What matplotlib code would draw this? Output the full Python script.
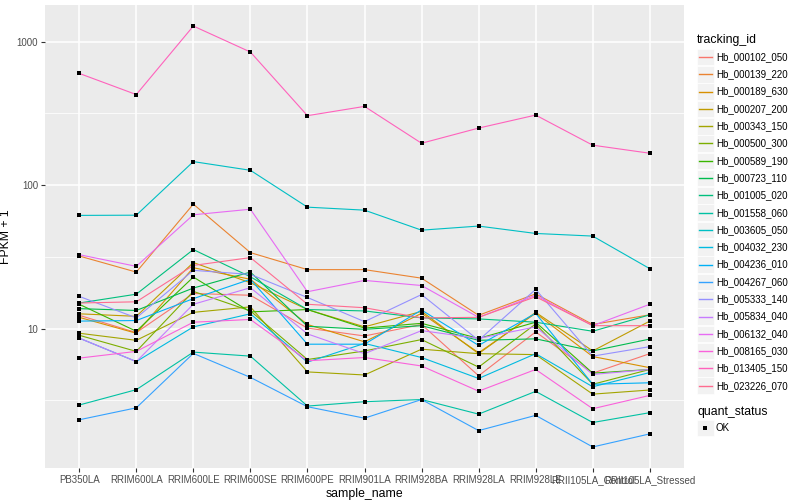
import numpy as np
import matplotlib
matplotlib.use("Agg")
from matplotlib import pyplot as plt
from matplotlib.patches import Rectangle
from matplotlib.lines import Line2D

plt.rcParams['font.family'] = ['Liberation Sans', 'DejaVu Sans']

samples = ["PB350LA", "RRIM600LA", "RRIM600LE", "RRIM600SE", "RRIM600PE", "RRIM901LA",
           "RRIM928BA", "RRIM928LA", "RRIM928LE", "RRII105LA_Control", "RRII105LA_Stressed"]

tracking_ids = ["Hb_000102_050", "Hb_000139_220", "Hb_000189_630", "Hb_000207_200",
                "Hb_000343_150", "Hb_000500_300", "Hb_000589_190", "Hb_000723_110",
                "Hb_001005_020", "Hb_001558_060", "Hb_003605_050", "Hb_004032_230",
                "Hb_004236_010", "Hb_004267_060", "Hb_005333_140", "Hb_005834_040",
                "Hb_006132_040", "Hb_008165_030", "Hb_013405_150", "Hb_023226_070"]

# FPKM + 1, one row per tracking_id, one column per sample
fpkm = [
    [12.4, 9.4, 17.6, 17.1, 10.1, 8.9, 10.7, 4.7, 9.5, 4.9, 6.7],
    [32.1, 24.8, 73.8, 33.9, 25.8, 25.8, 22.5, 12.4, 17.5, 10.7, 12.5],
    [12.0, 9.3, 26.6, 22.1, 10.7, 8.1, 12.8, 6.8, 12.8, 6.4, 5.35],
    [12.7, 12.2, 28.9, 20.9, 13.6, 10.3, 13.2, 6.7, 13.0, 7.0, 11.3],
    [9.3, 8.3, 13.0, 14.2, 5.0, 4.76, 7.2, 6.7, 6.6, 3.5, 3.74],
    [9.0, 6.95, 18.2, 13.3, 6.1, 7.0, 8.4, 5.4, 10.8, 4.1, 5.2],
    [14.8, 9.6, 22.9, 13.1, 13.6, 10.1, 10.9, 8.55, 11.1, 4.9, 5.2],
    [13.8, 13.4, 19.2, 24.8, 10.4, 9.9, 10.5, 8.3, 8.5, 7.0, 8.47],
    [15.1, 17.4, 35.6, 23.0, 13.6, 13.3, 11.9, 11.7, 11.1, 9.6, 12.5],
    [2.94, 3.76, 6.87, 6.44, 2.89, 3.1, 3.21, 2.54, 3.66, 2.22, 2.6],
    [61.6, 61.8, 146, 127, 70.3, 67, 48.6, 51.9, 46.1, 44.2, 26.2],
    [8.6, 5.9, 10.3, 12.7, 5.85, 7.9, 6.3, 4.5, 6.7, 3.94, 4.95],
    [11.3, 11.4, 16.2, 22.1, 7.8, 7.8, 13.5, 7.65, 12.8, 4.1, 4.2],
    [2.32, 2.81, 6.73, 4.58, 2.86, 2.38, 3.21, 1.95, 2.49, 1.5, 1.85],
    [16.8, 11.9, 25.5, 23.9, 16.5, 11.2, 17.3, 8.3, 18.8, 6.44, 7.5],
    [8.6, 5.9, 14.8, 19.3, 9.2, 6.7, 9.7, 8.55, 10.3, 4.8, 5.2],
    [32.8, 27.2, 62.2, 68.0, 18.1, 21.7, 20.0, 12.0, 17.1, 10.5, 14.8],
    [6.24, 6.95, 11.1, 11.6, 5.98, 6.3, 5.5, 3.67, 5.2, 2.77, 3.43],
    [601, 428, 1285, 847, 305, 354, 196, 250, 308, 190, 167],
    [15.1, 15.4, 27.6, 31.3, 14.8, 14.0, 11.9, 12.0, 16.7, 10.5, 10.5],
]

# ggplot2 default hue palette for 20 levels
colors = ["#F8766D", "#EA8331", "#D89000", "#C09B00", "#A3A500", "#7CAE00", "#39B600",
          "#00BB4E", "#00BF7D", "#00C1A3", "#00BFC4", "#00BAE0", "#00B0F6", "#35A2FF",
          "#9590FF", "#C77CFF", "#E76BF3", "#FA62DB", "#FF62BC", "#FF6C90"]

fig = plt.figure(figsize=(8, 5), dpi=100)
ax = fig.add_axes([45/800, 32/500, (684-45)/800, (468-5)/500])
ax.set_facecolor("#EBEBEB")

x = np.arange(len(samples))
for vals, col in zip(fpkm, colors):
    ax.plot(x, vals, color=col, lw=0.8, zorder=3)
for vals in fpkm:
    ax.plot(x, vals, ls="none", marker="s", ms=2.6, mew=0, color="black", zorder=4)

ax.set_yscale("log")
lo = np.log10(np.min(fpkm))
hi = np.log10(np.max(fpkm))
pad = (hi - lo) * 0.05
ax.set_ylim(10**(lo - pad), 10**(hi + pad))
ax.set_xlim(-0.6, len(samples) - 0.4)

ax.set_yticks([10, 100, 1000])
ax.set_yticklabels(["10", "100", "1000"])
ax.set_yticks([10**0.5, 10**1.5, 10**2.5], minor=True)
ax.yaxis.set_minor_formatter(plt.NullFormatter())
ax.set_xticks(x)
ax.set_xticklabels(samples)

ax.grid(True, which="major", color="white", lw=1.1, zorder=0)
ax.grid(True, which="minor", axis="y", color="white", lw=0.55, zorder=0)
ax.set_axisbelow(True)
for s in ax.spines.values():
    s.set_visible(False)
ax.tick_params(which="major", length=3, width=0.8, color="#333333",
               labelsize=7, labelcolor="#4D4D4D", pad=2)
ax.tick_params(which="minor", length=0)

ax.set_xlabel("sample_name", fontsize=8.8, labelpad=2)
ax.set_ylabel("FPKM + 1", fontsize=8.8)
ax.yaxis.set_label_coords(-0.052, 0.5)

# legends drawn in figure pixel coordinates
def fx(px):
    return px / 800

def fy(py):
    return 1 - py / 500

fig.text(fx(697), fy(40), "tracking_id", fontsize=8.8, va="center", ha="left")
for i, (name, col) in enumerate(zip(tracking_ids, colors)):
    yc = 57 + i * 17.3
    fig.patches.append(Rectangle((fx(697), fy(yc + 8.3)), 16.6 / 800, 16.6 / 500,
                                 transform=fig.transFigure, facecolor="#F2F2F2",
                                 edgecolor="white", lw=0.5, zorder=1))
    fig.lines.append(Line2D([fx(698.5), fx(712)], [fy(yc), fy(yc)], color=col, lw=1.0,
                            transform=fig.transFigure, zorder=5))
    fig.text(fx(716), fy(yc), name, fontsize=7, va="center", ha="left")

fig.text(fx(697), fy(412), "quant_status", fontsize=8.8, va="center", ha="left")
fig.patches.append(Rectangle((fx(697), fy(428 + 8.3)), 16.6 / 800, 16.6 / 500,
                             transform=fig.transFigure, facecolor="#F2F2F2",
                             edgecolor="white", lw=0.5, zorder=1))
fig.lines.append(Line2D([fx(705)], [fy(428)], ls="none", marker="s", ms=2.6, mew=0,
                        color="black", transform=fig.transFigure, zorder=5))
fig.text(fx(716), fy(428), "OK", fontsize=7, va="center", ha="left")

fig.savefig("out.png", dpi=100)
